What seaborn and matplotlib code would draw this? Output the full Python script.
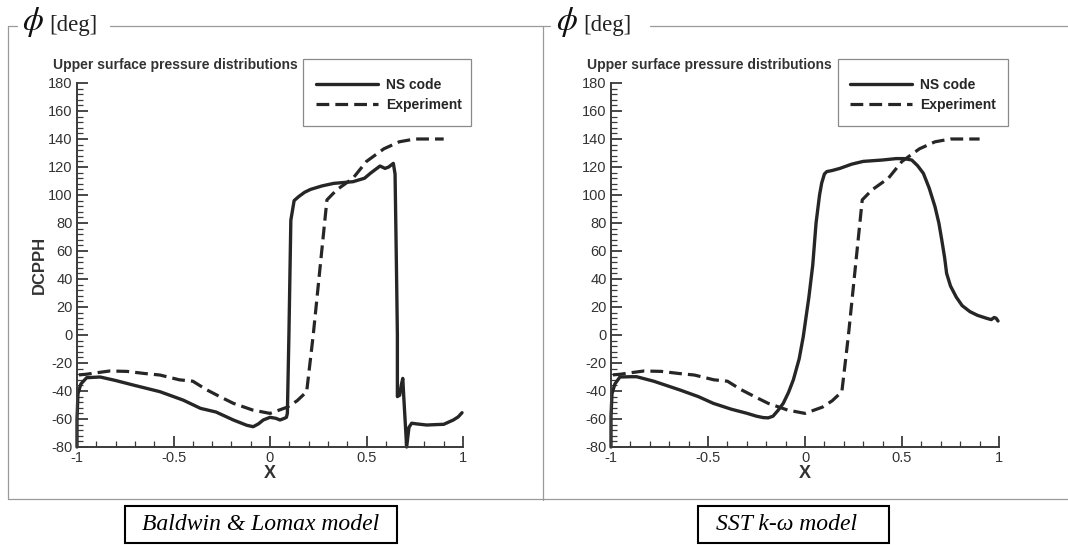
import numpy as np
import pandas as pd
import matplotlib
matplotlib.use("Agg")
import matplotlib.pyplot as plt
import seaborn as sns
from matplotlib.lines import Line2D
from matplotlib.patches import Rectangle
from matplotlib.ticker import MultipleLocator

# ---------------- data ----------------
exp_x = [-0.99, -0.95, -0.9, -0.83, -0.74, -0.65, -0.57, -0.47, -0.40, -0.33, -0.26, -0.19,
         -0.09, 0.0, 0.04, 0.09, 0.14, 0.19, 0.224, 0.26, 0.295, 0.345, 0.43, 0.5, 0.59,
         0.67, 0.75, 0.9]
exp_y = [-28.5, -28, -27, -25.7, -26, -27.5, -28.6, -32, -33, -39, -44, -48.8,
         -53.6, -56, -54, -51.5, -47, -40.5, 0, 49, 96.5, 103.6, 112, 124, 133,
         138, 140, 140]

bl_x = [-1, -1, -0.995, -0.98, -0.95, -0.88, -0.8, -0.71, -0.57, -0.45, -0.36, -0.28,
        -0.19, -0.12, -0.087, -0.06, -0.035, 0.0, 0.03, 0.052, 0.075, 0.085, 0.09,
        0.098, 0.108, 0.125, 0.15, 0.18, 0.21, 0.27, 0.33, 0.43, 0.49, 0.52, 0.57,
        0.596, 0.615, 0.639, 0.648, 0.655, 0.66, 0.66, 0.672, 0.68, 0.688, 0.693,
        0.708, 0.72, 0.734, 0.76, 0.812, 0.86, 0.9, 0.95, 0.975, 0.995]
bl_y = [-80, -60, -42, -35, -30.5, -30, -32.5, -35.7, -40.5, -46.5, -52.4, -55,
        -60.7, -64.5, -65.5, -63.5, -60.7, -58.8, -59.5, -60.7, -59.5, -58.8, -56,
        0, 82, 96, 99, 102, 104, 106.5, 108.3, 109.5, 112, 115.5, 120.7,
        119, 120, 122.6, 115, 50, 0, -44, -43, -36, -31, -44,
        -80, -66, -63, -63.5, -64.3, -64, -63.8, -60.7, -58.5, -55.5]

sst_x = [-1, -1, -0.995, -0.98, -0.954, -0.9, -0.868, -0.78, -0.644, -0.55, -0.473,
         -0.38, -0.30, -0.25, -0.215, -0.19, -0.165, -0.14, -0.112, -0.085, -0.06,
         -0.03, -0.009, 0.02, 0.04, 0.057, 0.075, 0.086, 0.1, 0.112, 0.14, 0.18,
         0.24, 0.30, 0.4, 0.47, 0.51, 0.55, 0.58, 0.61, 0.64, 0.67, 0.69, 0.705,
         0.72, 0.73, 0.75, 0.78, 0.81, 0.85, 0.89, 0.937, 0.96, 0.975, 0.985, 0.995]
sst_y = [-80, -58, -42, -35, -30, -29.8, -29.8, -33, -39.3, -44, -48.8,
         -53, -55.9, -58, -59, -59.2, -58, -54, -48.8, -41, -32,
         -17, -1.2, 27, 50, 80, 100, 108.5, 115, 116.7, 117.5, 119,
         122, 124, 125, 126, 126, 125, 121, 115.5, 105, 91.7, 80, 67.9,
         55, 44, 35, 27, 21, 16.7, 14, 11.9, 11, 12.5, 12, 10]

y_ticks = [-80, -60, -40, -20, 0, 20, 40, 60, 80, 100, 120, 140, 160, 180]
x_ticks = [-1, -0.5, 0, 0.5, 1]
x_ticklabels = ["-1", "-0.5", "0", "0.5", "1"]
series_labels = ["NS code", "Experiment"]
panel_title = "Upper surface pressure distributions"
captions = ["Baldwin & Lomax model", "SST k-\u03c9 model"]

# ---------------- style ----------------
sns.set_theme(style="ticks")
plt.rcParams["font.family"] = ["Liberation Sans", "DejaVu Sans"]
plt.rcParams["mathtext.fontset"] = "stix"
plt.rcParams["axes.unicode_minus"] = False

W, H = 1068, 545
fig = plt.figure(figsize=(W / 100, H / 100), dpi=100)
fig.patch.set_facecolor("white")


def fx(x):
    return x / W


def fy(y):
    return 1 - y / H


LC = "#262626"
AC = "#3a3a3a"


def make_panel(x0px, x1px, ns_x, ns_y, ylabel):
    ax = fig.add_axes([fx(x0px), fy(447), (x1px - x0px) / W, (447 - 83) / H])
    ax.set_facecolor("white")
    ns = pd.DataFrame({"x": ns_x, "y": ns_y})
    ex = pd.DataFrame({"x": exp_x, "y": exp_y})
    sns.lineplot(data=ns, x="x", y="y", sort=False, estimator=None, ax=ax,
                 color=LC, lw=2.4, label=series_labels[0], clip_on=False)
    sns.lineplot(data=ex, x="x", y="y", sort=False, estimator=None, ax=ax,
                 color=LC, lw=2.3, linestyle=(0, (4.0, 1.9)),
                 label=series_labels[1])
    ax.set_xlim(-1, 1)
    ax.set_ylim(-80, 180)
    ax.set_yticks(y_ticks)
    ax.set_xticks(x_ticks)
    ax.set_xticklabels(x_ticklabels)
    ax.yaxis.set_minor_locator(MultipleLocator(4))
    ax.xaxis.set_minor_locator(MultipleLocator(0.1))
    for s in ["top", "right"]:
        ax.spines[s].set_visible(False)
    for s in ["left", "bottom"]:
        ax.spines[s].set_color(AC)
        ax.spines[s].set_linewidth(1.4)
    ax.tick_params(which="major", direction="in", length=8, width=1.3,
                   colors=AC, labelcolor="#333333", labelsize=10.5, pad=3)
    ax.tick_params(which="minor", direction="in", length=4, width=0.9, colors=AC)
    ax.set_xlabel("X", fontsize=13, fontweight="bold", color="#333333", labelpad=0)
    if ylabel:
        ax.set_ylabel("DCPPH", fontsize=12, fontweight="bold", color="#333333",
                      labelpad=1)
    else:
        ax.set_ylabel("")
    h, l = ax.get_legend_handles_labels()
    ax.legend(h, l, frameon=False, loc="upper left",
              bbox_to_anchor=(fx(x0px + 232), fy(71)),
              bbox_transform=fig.transFigure, handlelength=4.5,
              borderpad=0, labelspacing=0.4, handletextpad=0.55,
              prop={"weight": "bold", "size": 10})
    return ax


axL = make_panel(77, 463, bl_x, bl_y, True)
axR = make_panel(611, 999, sst_x, sst_y, False)

# legend boxes and titles
for (bx0, bx1), tx in [((303, 471), 53), ((838, 1008), 587)]:
    fig.add_artist(Rectangle((fx(bx0), fy(126)), (bx1 - bx0) / W, (126 - 59) / H,
                             transform=fig.transFigure, fill=False,
                             edgecolor="#8a8a8a", lw=0.9))
    fig.text(fx(tx), fy(65), panel_title, fontsize=10, fontweight="bold",
             color="#333333", ha="left", va="center")

# outer frames
FC = "#9a9a9a"
frame_lines = [
    ([8, 17], [26, 26]),
    ([8, 8], [26, 499]),
    ([110, 550], [26, 26]),
    ([543, 543], [26, 500]),
    ([650, 1068], [26, 26]),
    ([8, 1068], [499, 499]),
]
for xs, ys in frame_lines:
    fig.add_artist(Line2D([fx(v) for v in xs], [fy(v) for v in ys],
                          transform=fig.transFigure, color=FC, lw=0.9))

# phi [deg] headers
for px0 in [22, 556]:
    fig.text(fx(px0), fy(30), r"$\phi$", fontsize=24, color="#111111",
             ha="left", va="baseline")
    fig.text(fx(px0 + 27), fy(31), "[deg]", fontsize=16.5, color="#222222",
             family="Liberation Serif", ha="left", va="baseline")

# caption boxes
for (bx0, bx1), tx, cap in [((125, 397), 142, captions[0]),
                             ((698, 889), 716, captions[1])]:
    fig.add_artist(Rectangle((fx(bx0), fy(543)), (bx1 - bx0) / W, (543 - 506) / H,
                             transform=fig.transFigure, fill=False,
                             edgecolor="black", lw=1.5))
    fig.text(fx(tx), fy(524), cap, fontsize=17, style="italic",
             family="Liberation Serif", color="black", ha="left", va="center")

fig.savefig("out.png", dpi=100, facecolor="white")
